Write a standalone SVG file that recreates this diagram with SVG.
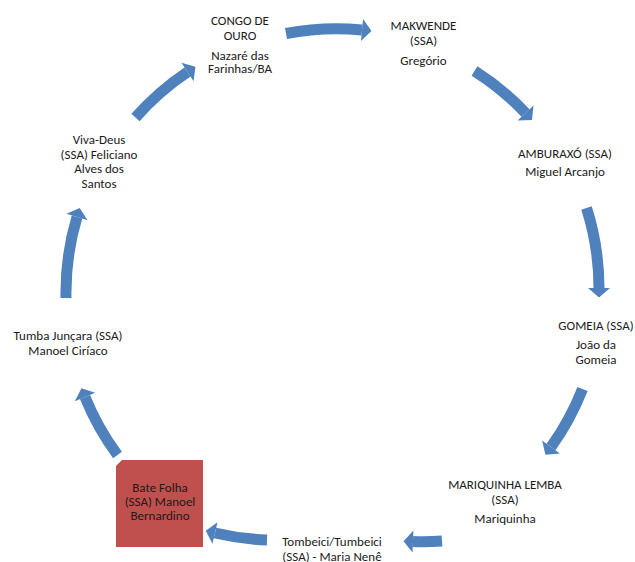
<svg xmlns="http://www.w3.org/2000/svg" width="635" height="562" viewBox="0 0 635 562">
<style>
.t{font-family:Carlito,Lato,"Liberation Sans",sans-serif;font-size:13px;fill:#1a1a1a;text-anchor:middle}
.arr{fill:none;stroke:#4F81BD;stroke-width:11;stroke-linecap:butt}
</style>
<defs>
<marker id="ah" markerUnits="userSpaceOnUse" markerWidth="12" markerHeight="22" viewBox="0 0 10 22" refX="0" refY="11" orient="auto" overflow="visible">
<path d="M0,0 L9.5,11 L0,22 Z" fill="#4F81BD"/>
</marker>
</defs>
<rect width="635" height="562" fill="#fff"/>
<g id="connectors">
<path class="arr" marker-end="url(#ah)" d="M286,33.5 A265,265 0 0,1 362,30"/>
<path class="arr" marker-end="url(#ah)" d="M474.5,71 A265,265 0 0,1 525.5,113"/>
<path class="arr" marker-end="url(#ah)" d="M586.5,208 A265,265 0 0,1 599,288"/>
<path class="arr" marker-end="url(#ah)" d="M582.5,389 A265,265 0 0,1 551,447"/>
<path class="arr" marker-end="url(#ah)" d="M442,541 A265,265 0 0,1 413,541.5"/>
<path class="arr" marker-end="url(#ah)" d="M267,540 A265,265 0 0,1 215,533"/>
<path class="arr" marker-end="url(#ah)" d="M117.5,455 A265,265 0 0,1 85,397"/>
<path class="arr" marker-end="url(#ah)" d="M66,298 A265,265 0 0,1 77,217"/>
<path class="arr" marker-end="url(#ah)" d="M135.5,117.5 A265,265 0 0,1 187.5,72"/>
</g>
<g id="congo">
<text class="t" x="240" y="25">CONGO DE</text>
<text class="t" x="240" y="39.5">OURO</text>
<text class="t" x="240" y="59.5">Nazaré das</text>
<text class="t" x="240" y="73">Farinhas/BA</text>
</g>
<g id="makwende">
<text class="t" x="423.5" y="30">MAKWENDE</text>
<text class="t" x="423.5" y="44.5">(SSA)</text>
<text class="t" x="423.5" y="64.5">Gregório</text>
</g>
<g id="amburaxo">
<text class="t" x="565" y="158">AMBURAXÓ (SSA)</text>
<text class="t" x="565" y="176">Miguel Arcanjo</text>
</g>
<g id="gomeia">
<text class="t" x="596" y="330">GOMEIA (SSA)</text>
<text class="t" x="596" y="349">João da</text>
<text class="t" x="596" y="364">Gomeia</text>
</g>
<g id="mariquinha">
<text class="t" x="505" y="489">MARIQUINHA LEMBA</text>
<text class="t" x="505" y="504">(SSA)</text>
<text class="t" x="505" y="523">Mariquinha</text>
</g>
<g id="tombeici">
<text class="t" x="332" y="546">Tombeici/Tumbeici</text>
<text class="t" x="332" y="560.5">(SSA) - Maria Nenê</text>
</g>
<g id="batefolha">
<path d="M116,466 L122,460 L203,460 L203,547 L116,547 Z" fill="#C0504D"/>
<text class="t" x="160" y="492">Bate Folha</text>
<text class="t" x="160" y="506">(SSA) Manoel</text>
<text class="t" x="160" y="520">Bernardino</text>
</g>
<g id="tumba">
<text class="t" x="68" y="340">Tumba Junçara (SSA)</text>
<text class="t" x="68" y="355">Manoel Ciríaco</text>
</g>
<g id="vivadeus">
<text class="t" x="99" y="144">Viva-Deus</text>
<text class="t" x="99" y="158.5">(SSA) Feliciano</text>
<text class="t" x="99" y="173">Alves dos</text>
<text class="t" x="99" y="187.5">Santos</text>
</g>
</svg>
